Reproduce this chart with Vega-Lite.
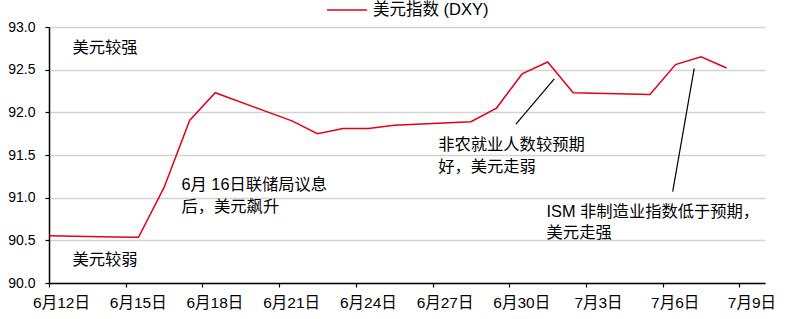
{
  "$schema": "https://vega.github.io/schema/vega-lite/v6.json",
  "width": 716,
  "height": 256,
  "autosize": {"type": "none"},
  "padding": {"left": 49, "top": 27, "right": 20, "bottom": 36},
  "background": "white",
  "config": {
    "font": "Liberation Sans, Noto Sans CJK SC, sans-serif",
    "view": {"stroke": null},
    "legend": {"layout": {"top": {"anchor": "middle"}}}
  },
  "datasets": {
    "dxy": [
      {"date": "2021-06-11T12:00", "value": 90.555, "series": "美元指数 (DXY)"},
      {"date": "2021-06-14T12:00", "value": 90.54, "series": "美元指数 (DXY)"},
      {"date": "2021-06-15T12:00", "value": 90.535, "series": "美元指数 (DXY)"},
      {"date": "2021-06-16T12:00", "value": 91.12, "series": "美元指数 (DXY)"},
      {"date": "2021-06-17T12:00", "value": 91.905, "series": "美元指数 (DXY)"},
      {"date": "2021-06-18T12:00", "value": 92.23, "series": "美元指数 (DXY)"},
      {"date": "2021-06-21T12:00", "value": 91.9, "series": "美元指数 (DXY)"},
      {"date": "2021-06-22T12:00", "value": 91.75, "series": "美元指数 (DXY)"},
      {"date": "2021-06-23T12:00", "value": 91.81, "series": "美元指数 (DXY)"},
      {"date": "2021-06-24T12:00", "value": 91.81, "series": "美元指数 (DXY)"},
      {"date": "2021-06-25T12:00", "value": 91.85, "series": "美元指数 (DXY)"},
      {"date": "2021-06-28T12:00", "value": 91.89, "series": "美元指数 (DXY)"},
      {"date": "2021-06-29T12:00", "value": 92.05, "series": "美元指数 (DXY)"},
      {"date": "2021-06-30T12:00", "value": 92.45, "series": "美元指数 (DXY)"},
      {"date": "2021-07-01T12:00", "value": 92.59, "series": "美元指数 (DXY)"},
      {"date": "2021-07-02T12:00", "value": 92.23, "series": "美元指数 (DXY)"},
      {"date": "2021-07-05T12:00", "value": 92.21, "series": "美元指数 (DXY)"},
      {"date": "2021-07-06T12:00", "value": 92.56, "series": "美元指数 (DXY)"},
      {"date": "2021-07-07T12:00", "value": 92.65, "series": "美元指数 (DXY)"},
      {"date": "2021-07-08T12:00", "value": 92.52, "series": "美元指数 (DXY)"}
    ],
    "notes": [
      {"date": "2021-06-12T22:00", "value": 92.754, "label": "美元较强"},
      {"date": "2021-06-12T22:00", "value": 90.27, "label": "美元较弱"},
      {"date": "2021-06-17T04:20", "value": 91.15, "label": "6月 16日联储局议息"},
      {"date": "2021-06-17T04:20", "value": 90.89, "label": "后，美元飙升"},
      {"date": "2021-06-27T05:17", "value": 91.617, "label": "非农就业人数较预期"},
      {"date": "2021-06-27T05:17", "value": 91.363, "label": "好，美元走弱"},
      {"date": "2021-07-01T11:00", "value": 90.828, "label": "ISM 非制造业指数低于预期，"},
      {"date": "2021-07-01T11:00", "value": 90.582, "label": "美元走强"}
    ],
    "pointers": [
      {"d1": "2021-06-30T06:14", "v1": 91.863, "d2": "2021-07-01T18:14", "v2": 92.391},
      {"d1": "2021-07-06T09:22", "v1": 91.07, "d2": "2021-07-07T05:34", "v2": 92.516}
    ]
  },
  "layer": [
    {
      "data": {"name": "dxy"},
      "mark": {"type": "line", "strokeWidth": 1.5, "clip": true},
      "encoding": {
        "x": {
          "field": "date",
          "type": "temporal",
          "scale": {"domain": [{"year": 2021, "month": 6, "date": 12}, {"year": 2021, "month": 7, "date": 10}]},
          "axis": {
            "title": null,
            "values": [
              {"year": 2021, "month": 6, "date": 12},
              {"year": 2021, "month": 6, "date": 15},
              {"year": 2021, "month": 6, "date": 18},
              {"year": 2021, "month": 6, "date": 21},
              {"year": 2021, "month": 6, "date": 24},
              {"year": 2021, "month": 6, "date": 27},
              {"year": 2021, "month": 6, "date": 30},
              {"year": 2021, "month": 7, "date": 3},
              {"year": 2021, "month": 7, "date": 6},
              {"year": 2021, "month": 7, "date": 9}
            ],
            "format": "%-m月%-d日",
            "grid": false,
            "domainColor": "black",
            "domainWidth": 1.5,
            "tickColor": "black",
            "tickSize": 4,
            "tickWidth": 1.2,
            "labelOffset": 12,
            "labelPadding": 8,
            "labelFontSize": 15.5,
            "labelColor": "black",
            "labelFlush": false,
            "labelOverlap": false
          }
        },
        "y": {
          "field": "value",
          "type": "quantitative",
          "scale": {"domain": [90, 93], "nice": false, "zero": false},
          "axis": {
            "title": null,
            "values": [90, 90.5, 91, 91.5, 92, 92.5, 93],
            "format": ".1f",
            "grid": true,
            "gridColor": "#d4d4d4",
            "gridWidth": 1.5,
            "domainColor": "black",
            "domainWidth": 1.5,
            "tickColor": "black",
            "tickSize": 4,
            "tickWidth": 1.2,
            "labelPadding": 10,
            "labelFontSize": 14,
            "labelColor": "black"
          }
        },
        "color": {
          "field": "series",
          "type": "nominal",
          "scale": {"range": ["#e2001a"]},
          "legend": {
            "orient": "top",
            "title": null,
            "symbolType": "stroke",
            "symbolSize": 1600,
            "symbolStrokeWidth": 1.5,
            "labelFontSize": 16.5,
            "labelColor": "black",
            "labelOffset": 5,
            "offset": 8,
            "padding": 0
          }
        }
      }
    },
    {
      "data": {"name": "pointers"},
      "mark": {"type": "rule", "color": "black", "strokeWidth": 1.2},
      "encoding": {
        "x": {"field": "d1", "type": "temporal"},
        "y": {"field": "v1", "type": "quantitative"},
        "x2": {"field": "d2"},
        "y2": {"field": "v2"}
      }
    },
    {
      "data": {"name": "notes"},
      "mark": {"type": "text", "align": "left", "baseline": "middle", "fontSize": 16.3, "color": "black"},
      "encoding": {
        "x": {"field": "date", "type": "temporal"},
        "y": {"field": "value", "type": "quantitative"},
        "text": {"field": "label"}
      }
    }
  ]
}
